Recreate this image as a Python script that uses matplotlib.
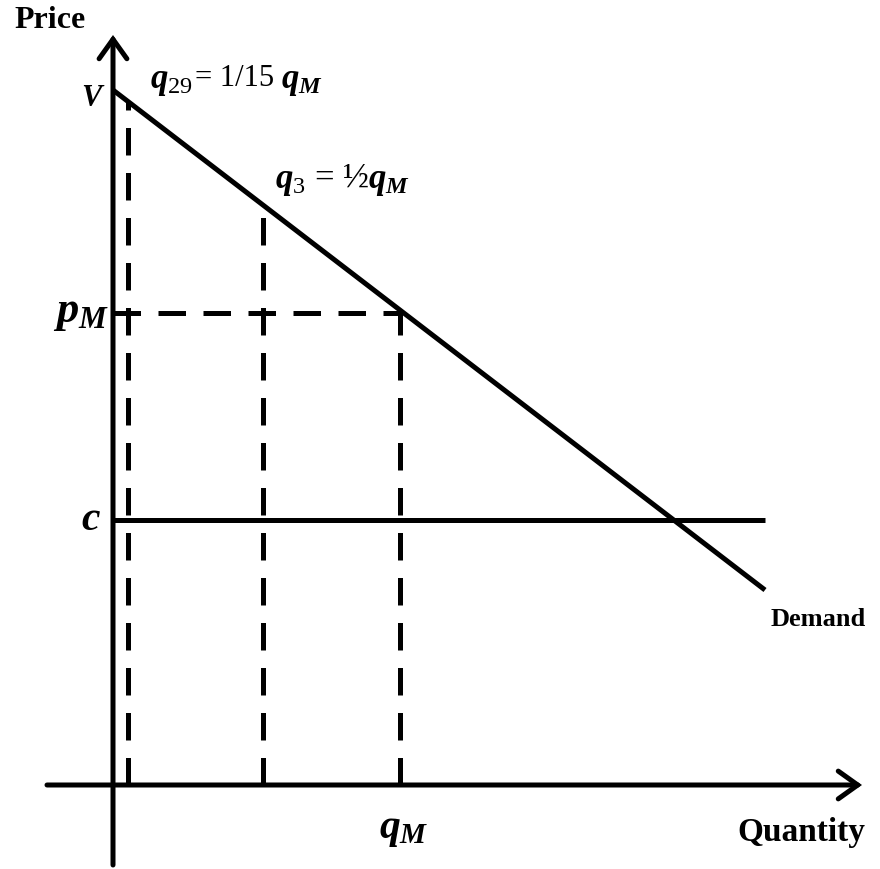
import numpy as np
import matplotlib
matplotlib.use('Agg')
import matplotlib.pyplot as plt

# economic quantities (arbitrary units, origin at the axes' crossing)
v_price = 695
c_price = 265
p_monop = 472
q_monop = 287
q_3 = 150
q_29 = 15
demand_q = [0, 652]
demand_p = [695, 195]
c_line_q = [0, 652]

plt.rcParams['font.family'] = 'Liberation Serif'
plt.rcParams['mathtext.fontset'] = 'custom'
plt.rcParams['mathtext.rm'] = 'Liberation Serif'
plt.rcParams['mathtext.it'] = 'Liberation Serif:italic:bold'
plt.rcParams['mathtext.bf'] = 'Liberation Serif:bold'

fig = plt.figure(figsize=(8.8, 8.69), dpi=100)
ax = fig.add_axes([0, 0, 1, 1])
ax.set_xlim(-113, 767)
ax.set_ylim(-84, 785)
ax.axis('off')

lw = 3.6
# axes with open arrowheads
arrow = dict(arrowstyle='->,head_length=0.7,head_width=0.5', lw=lw, color='black',
             shrinkA=0, shrinkB=0, mutation_scale=20, joinstyle='miter')
ax.annotate('', xy=(0, 750), xytext=(0, -80), arrowprops=arrow)
ax.annotate('', xy=(749, 0), xytext=(-66, 0), arrowprops=arrow)

# demand and cost
def_slope = (demand_p[1] - demand_p[0]) / (demand_q[1] - demand_q[0])
ax.plot(demand_q, demand_p, color='black', lw=lw, solid_capstyle='butt')
ax.plot(c_line_q, [c_price, c_price], color='black', lw=lw, solid_capstyle='butt')

# dashed guides
dash = dict(color='black', lw=lw, linestyle=(0, (5.5, 3.5)), dash_capstyle='butt')
for q in [q_29, q_3, q_monop]:
    p_at = demand_p[0] + def_slope * q
    ax.plot([q, q], [0, p_at], **dash)
ax.plot([0, q_monop], [p_monop, p_monop], **dash)

# labels
ax.text(-63, 765, 'Price', fontsize=23, fontweight='bold', ha='center', va='center')
ax.text(688, -47, 'Quantity', fontsize=24, fontweight='bold', ha='center', va='center')
ax.text(705, 165, 'Demand', fontsize=19, fontweight='bold', ha='center', va='center')
ax.text(-8, v_price - 8, r'$V$', fontsize=22, ha='right', va='center')
ax.text(-4, p_monop, r'$p_M$', fontsize=32, ha='right', va='center')
ax.text(-12, c_price, r'$c$', fontsize=30, ha='right', va='center')
ax.text(q_monop + 4, -45, r'$q_M$', fontsize=30, ha='center', va='center')
ax.text(37, 703, r'$q_{29}$', fontsize=25, ha='left', va='center')
ax.text(82, 707, '= 1/15', fontsize=22, ha='left', va='center')
ax.text(168, 703, r'$q_M$', fontsize=25, ha='left', va='center')
ax.text(162, 605, r'$q_3$ = ½$q_M$', fontsize=25, ha='left', va='center')

fig.savefig('out.png', dpi=100)
